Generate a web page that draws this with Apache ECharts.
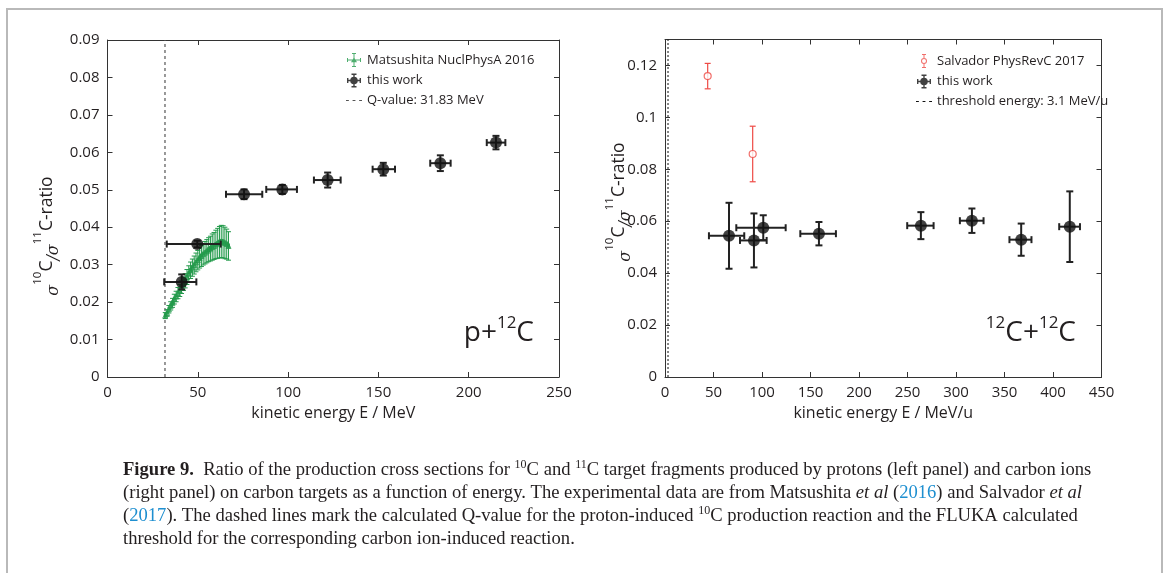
<!DOCTYPE html>
<html>
<head>
<meta charset="utf-8">
<script src="https://cdn.jsdelivr.net/npm/echarts@6/dist/echarts.min.js"></script>
<style>
  html, body { margin: 0; padding: 0; background: #fff; }
  #chart { width: 1168px; height: 573px; }
</style>
</head>
<body>
<div id="chart"></div>
<script>
// ---- data ----
// left panel: p + 12C
const refEnergy = [32, 33, 34, 35, 36, 37, 38, 39, 40, 41, 42, 43, 44, 45, 46, 47, 48, 49,
  50, 51, 52, 53, 54, 55, 56, 57, 58, 59, 60, 61, 62, 63, 64, 65, 66, 67];
const refRatio = [0.0164, 0.0171, 0.0181, 0.0190, 0.0198, 0.0208, 0.0215, 0.0224, 0.0231, 0.0240,
  0.0249, 0.0257, 0.0267, 0.0276, 0.0285, 0.0292, 0.0299, 0.0306, 0.0312, 0.0318,
  0.0323, 0.0328, 0.0332, 0.0336, 0.0340, 0.0343, 0.0347, 0.0350, 0.0354, 0.0357,
  0.0360, 0.0362, 0.0361, 0.0358, 0.0355, 0.0350];
const refRatioErr = [0.0008, 0.0009, 0.0010, 0.0011, 0.0012, 0.0013, 0.0014, 0.0015, 0.0016, 0.0017,
  0.0018, 0.0019, 0.0020, 0.0021, 0.0022, 0.0023, 0.0024, 0.0025, 0.0026, 0.0027,
  0.0028, 0.0029, 0.0030, 0.0031, 0.0032, 0.0033, 0.0035, 0.0036, 0.0038, 0.0040,
  0.0042, 0.0043, 0.0043, 0.0042, 0.0040, 0.0038];
const refEnergyErr = 0.5;

const protonEnergy = [41.1, 49.7, 75.6, 96.8, 121.9, 152.7, 184.3, 215.1];
const protonEnergyErrLo = [9.7, 16.9, 10.0, 8.9, 7.6, 5.9, 5.6, 5.1];
const protonEnergyErrHi = [8.1, 13.0, 10.1, 8.1, 7.2, 6.5, 5.7, 5.2];
const protonRatio = [0.0254, 0.0355, 0.0488, 0.0501, 0.0526, 0.0555, 0.0571, 0.0626];
const protonRatioErr = [0.0020, 0.0009, 0.0013, 0.0012, 0.0020, 0.0017, 0.0021, 0.0018];
const qValue = 31.83;

// right panel: 12C + 12C
const salvEnergy = [44, 90.4];
const salvRatio = [0.1159, 0.0859];
const salvRatioErr = [0.0049, 0.0107];

const carbonEnergy = [66, 91.7, 101.3, 158.7, 263.8, 316.4, 367.2, 417.3];
const carbonEnergyErrLo = [20.7, 14.4, 27.8, 19.2, 14.1, 12.4, 12.1, 10.9];
const carbonEnergyErrHi = [15.7, 13.1, 23.1, 17.5, 13.1, 12.0, 10.6, 10.5];
const carbonRatio = [0.0544, 0.0526, 0.0575, 0.0552, 0.0583, 0.0602, 0.0529, 0.0579];
const carbonRatioErr = [0.0127, 0.0104, 0.0048, 0.0045, 0.0052, 0.0047, 0.0062, 0.0136];
const threshold = 3.1;

// axis ranges [min, max, interval]
const leftX = [0, 250, 50];
const leftY = [0, 0.09, 0.01];
const rightX = [0, 450, 50];
const rightY = [0, 0.13, 0.02];

// ---- helpers ----
const FONT = 'Open Sans';
const SERIF = 'Liberation Serif';
const INK = '#231f20';
const GREEN = '#239a4b';
const RED = '#ee4a45';

function errRows (xs, ys, yErr, xLo, xHi) {
	return xs.map((x, i) => [x, ys[i], ys[i] - yErr[i], ys[i] + yErr[i], x - xLo[i], x + xHi[i]]);
}

function errorBars (cap, width) {
	return function (params, api) {
		const x = api.value(0);
		const y = api.value(1);
		const top = api.coord([x, api.value(3)]);
		const bot = api.coord([x, api.value(2)]);
		const lft = api.coord([api.value(4), y]);
		const rgt = api.coord([api.value(5), y]);
		const style = { stroke: api.visual('color'), lineWidth: width };
		const segs = [
			[top[0], top[1], bot[0], bot[1]],
			[top[0] - cap, top[1], top[0] + cap, top[1]],
			[bot[0] - cap, bot[1], bot[0] + cap, bot[1]]
		];
		if (rgt[0] - lft[0] > 0.5) {
			segs.push([lft[0], lft[1], rgt[0], rgt[1]]);
			segs.push([lft[0], lft[1] - cap, lft[0], lft[1] + cap]);
			segs.push([rgt[0], rgt[1] - cap, rgt[0], rgt[1] + cap]);
		}
		return {
			type: 'group',
			children: segs.map(s => ({
				type: 'line',
				shape: { x1: s[0], y1: s[1], x2: s[2], y2: s[3] },
				style: style
			}))
		};
	};
}

function axisPair (grid, range, pos, withLabels, name) {
	const steps = range[1] / range[2];
	const base = {
		gridIndex: grid,
		type: 'value',
		min: range[0],
		max: range[1],
		interval: range[2],
		position: pos,
		splitLine: { show: false },
		axisLine: { show: true, onZero: false, lineStyle: { color: '#333', width: 1 } },
		axisTick: { show: true, inside: true, length: 5, lineStyle: { color: '#333' } },
		axisLabel: {
			show: withLabels,
			color: INK,
			fontFamily: FONT,
			fontSize: 15,
			margin: 8,
			// hide the extra label at a max that is not on the tick grid
			showMaxLabel: Math.abs(steps - Math.round(steps)) < 1e-6
		}
	};
	if (name) {
		base.name = name;
		base.nameLocation = 'middle';
		base.nameGap = 28;
		base.nameTextStyle = { color: INK, fontFamily: FONT, fontSize: 16 };
	}
	return base;
}

// legend icons (filled paths)
const iconWork = 'path://M1 6.3H15V7.7H1Z M7.3 0H8.7V14H7.3Z M1 4.5H2.4V9.5H1Z M13.6 4.5H15V9.5H13.6Z ' +
	'M5.5 0H10.5V1.4H5.5Z M5.5 12.6H10.5V14H5.5Z M4.2 7A3.8 3.8 0 1 1 11.8 7A3.8 3.8 0 1 1 4.2 7Z';
const iconMatsu = 'path://M1 6.5H15V7.5H1Z M7.5 0H8.5V14H7.5Z M1 5H2V9H1Z M14 5H15V9H14Z ' +
	'M6 0H10V1H6Z M6 13H10V14H6Z M8 4.2L11 9.2L5 9.2Z';
const iconSalv = 'path://M7.5 0H8.5V4.2H7.5Z M7.5 9.8H8.5V14H7.5Z M6 0H10V1H6Z M6 13H10V14H6Z ' +
	'M5 7A3 3 0 1 1 11 7A3 3 0 1 1 5 7Z M6 7A2 2 0 1 0 10 7A2 2 0 1 0 6 7Z';
const iconDash = 'path://M1 6.5H3.5V7.5H1Z M6.75 6.5H9.25V7.5H6.75Z M12.5 6.5H15V7.5H12.5Z';

const legendText = { color: INK, fontFamily: FONT, fontSize: 13 };

// graphic text uses zrender styles, so colour goes in "fill"
const yRich = {
	c: { fontFamily: FONT, fontSize: 17.5, fill: INK, lineHeight: 30 },
	it: { fontFamily: 'DejaVu Serif', fontStyle: 'italic', fontSize: 16, fill: INK, lineHeight: 16, verticalAlign: 'bottom' },
	sup: { fontFamily: FONT, fontSize: 11.5, fill: INK, lineHeight: 7, verticalAlign: 'top' }
};
const yLabel = '{it|σ}{sup|10}{c|C}{it|/σ}{sup|11}{c|C-ratio}';

const annRich = {
	n: { fontFamily: FONT, fontSize: 28, fill: INK, lineHeight: 36 },
	sup: { fontFamily: FONT, fontSize: 17, fill: INK, lineHeight: 16, verticalAlign: 'top' }
};

const CAP = 18.6;
const capRich = {
	n: { fontFamily: SERIF, fontSize: CAP, fill: INK, lineHeight: 23 },
	b: { fontFamily: SERIF, fontWeight: 'bold', fontSize: CAP, fill: INK, lineHeight: 23 },
	i: { fontFamily: SERIF, fontStyle: 'italic', fontSize: CAP, fill: INK, lineHeight: 23 },
	lnk: { fontFamily: SERIF, fontSize: CAP, fill: '#1e8fd0', lineHeight: 23 },
	sup: { fontFamily: SERIF, fontSize: 12, fill: INK, lineHeight: 12, verticalAlign: 'top' }
};
const caption = [
	'{b|Figure 9.}{n|  Ratio of the production cross sections for }{sup|10}{n|C and }{sup|11}{n|C target fragments produced by protons (left panel) and carbon ions}',
	'{n|(right panel) on carbon targets as a function of energy. The experimental data are from Matsushita }{i|et al}{n| (}{lnk|2016}{n|) and Salvador }{i|et al}',
	'{n|(}{lnk|2017}{n|). The dashed lines mark the calculated Q-value for the proton-induced }{sup|10}{n|C production reaction and the FLUKA calculated}',
	'{n|threshold for the corresponding carbon ion-induced reaction.}'
].join('\n');

const myChart = echarts.init(document.getElementById('chart'), null, { renderer: 'canvas' });

const option = {
	backgroundColor: '#fff',
	animation: false,
	grid: [
		{ left: 107.5, top: 40, width: 451.5, height: 337 },
		{ left: 665, top: 39.5, width: 436.5, height: 337.5 }
	],
	xAxis: [
		axisPair(0, leftX, 'bottom', true, 'kinetic energy E / MeV'),
		axisPair(0, leftX, 'top', false),
		axisPair(1, rightX, 'bottom', true, 'kinetic energy E / MeV/u'),
		axisPair(1, rightX, 'top', false)
	],
	yAxis: [
		axisPair(0, leftY, 'left', true),
		axisPair(0, leftY, 'right', false),
		axisPair(1, rightY, 'left', true),
		axisPair(1, rightY, 'right', false)
	],
	legend: [
		{
			selectedMode: false,
			orient: 'vertical',
			left: 341,
			top: 48,
			itemWidth: 16,
			itemHeight: 14,
			itemGap: 6.5,
			itemTextGap: 6,
			textStyle: legendText,
			data: [
				{ name: 'Matsushita NuclPhysA 2016', icon: iconMatsu, itemStyle: { color: GREEN, borderWidth: 0 } },
				{ name: 'this work', icon: iconWork, itemStyle: { color: '#111', borderWidth: 0 } },
				{ name: 'Q-value: 31.83 MeV', icon: iconDash, itemStyle: { color: '#555', borderWidth: 0 }, lineStyle: { width: 0 } }
			]
		},
		{
			selectedMode: false,
			orient: 'vertical',
			left: 911,
			top: 49,
			itemWidth: 16,
			itemHeight: 14,
			itemGap: 6.5,
			itemTextGap: 5,
			textStyle: legendText,
			data: [
				{ name: 'Salvador PhysRevC 2017', icon: iconSalv, itemStyle: { color: RED, borderWidth: 0 } },
				{ name: 'this work ', icon: iconWork, itemStyle: { color: '#111', borderWidth: 0 } },
				{ name: 'threshold energy: 3.1 MeV/u', icon: iconDash, itemStyle: { color: '#111', borderWidth: 0 }, lineStyle: { width: 0 } }
			]
		}
	],
	graphic: [
		{
			type: 'rect',
			silent: true,
			shape: { x: 7, y: 9, width: 1155, height: 600 },
			style: { fill: 'none', stroke: '#b9b9b9', lineWidth: 2 }
		},
		{
			type: 'text',
			x: 47,
			y: 236,
			rotation: Math.PI / 2,
			style: { text: yLabel, rich: yRich, align: 'center', verticalAlign: 'middle' }
		},
		{
			type: 'text',
			x: 619,
			y: 202,
			rotation: Math.PI / 2,
			style: { text: yLabel, rich: yRich, align: 'center', verticalAlign: 'middle' }
		},
		{
			type: 'text',
			x: 534,
			y: 333,
			style: { text: '{n|p+}{sup|12}{n|C}', rich: annRich, align: 'right', verticalAlign: 'middle' }
		},
		{
			type: 'text',
			x: 1076,
			y: 333,
			style: { text: '{sup|12}{n|C+}{sup|12}{n|C}', rich: annRich, align: 'right', verticalAlign: 'middle' }
		},
		{
			type: 'text',
			x: 123,
			y: 459,
			style: { text: caption, rich: capRich, align: 'left', verticalAlign: 'top' }
		}
	],
	series: [
		{
			name: 'Q-value: 31.83 MeV',
			type: 'line',
			xAxisIndex: 0,
			yAxisIndex: 0,
			data: [[qValue, leftY[0]], [qValue, leftY[1]]],
			symbol: 'none',
			color: '#555',
			lineStyle: { color: '#555', width: 1.2, type: [3, 3] },
			z: 1
		},
		{
			name: 'matsushita-err',
			type: 'custom',
			xAxisIndex: 0,
			yAxisIndex: 0,
			renderItem: errorBars(2.5, 1),
			itemStyle: { color: GREEN },
			data: errRows(refEnergy, refRatio, refRatioErr,
				refEnergy.map(() => refEnergyErr), refEnergy.map(() => refEnergyErr)),
			z: 2
		},
		{
			name: 'Matsushita NuclPhysA 2016',
			type: 'scatter',
			xAxisIndex: 0,
			yAxisIndex: 0,
			symbol: 'triangle',
			symbolSize: 5,
			itemStyle: { color: 'rgba(255,255,255,0)', borderColor: GREEN, borderWidth: 1 },
			color: GREEN,
			data: refEnergy.map((e, i) => [e, refRatio[i]]),
			z: 3
		},
		{
			name: 'proton-err',
			type: 'custom',
			xAxisIndex: 0,
			yAxisIndex: 0,
			renderItem: errorBars(3.5, 2),
			itemStyle: { color: '#222' },
			data: errRows(protonEnergy, protonRatio, protonRatioErr, protonEnergyErrLo, protonEnergyErrHi),
			z: 4
		},
		{
			name: 'this work',
			type: 'scatter',
			xAxisIndex: 0,
			yAxisIndex: 0,
			symbol: 'circle',
			symbolSize: 12,
			itemStyle: { color: '#111' },
			data: protonEnergy.map((e, i) => [e, protonRatio[i]]),
			z: 5
		},
		{
			name: 'threshold energy: 3.1 MeV/u',
			type: 'line',
			xAxisIndex: 2,
			yAxisIndex: 2,
			data: [[threshold, rightY[0]], [threshold, rightY[1]]],
			symbol: 'none',
			color: '#111',
			lineStyle: { color: '#111', width: 1, type: [2, 2] },
			z: 1
		},
		{
			name: 'salvador-err',
			type: 'custom',
			xAxisIndex: 2,
			yAxisIndex: 2,
			renderItem: errorBars(3, 1.2),
			itemStyle: { color: RED },
			data: errRows(salvEnergy, salvRatio, salvRatioErr, [0, 0], [0, 0]),
			z: 2
		},
		{
			name: 'Salvador PhysRevC 2017',
			type: 'scatter',
			xAxisIndex: 2,
			yAxisIndex: 2,
			symbol: 'circle',
			symbolSize: 7,
			itemStyle: { color: '#fff', borderColor: RED, borderWidth: 1.2 },
			color: RED,
			data: salvEnergy.map((e, i) => [e, salvRatio[i]]),
			z: 3
		},
		{
			name: 'carbon-err',
			type: 'custom',
			xAxisIndex: 2,
			yAxisIndex: 2,
			renderItem: errorBars(3.5, 2),
			itemStyle: { color: '#222' },
			data: errRows(carbonEnergy, carbonRatio, carbonRatioErr, carbonEnergyErrLo, carbonEnergyErrHi),
			z: 4
		},
		{
			name: 'this work ',
			type: 'scatter',
			xAxisIndex: 2,
			yAxisIndex: 2,
			symbol: 'circle',
			symbolSize: 12,
			itemStyle: { color: '#111' },
			data: carbonEnergy.map((e, i) => [e, carbonRatio[i]]),
			z: 5
		}
	]
};

myChart.setOption(option);
</script>
</body>
</html>
